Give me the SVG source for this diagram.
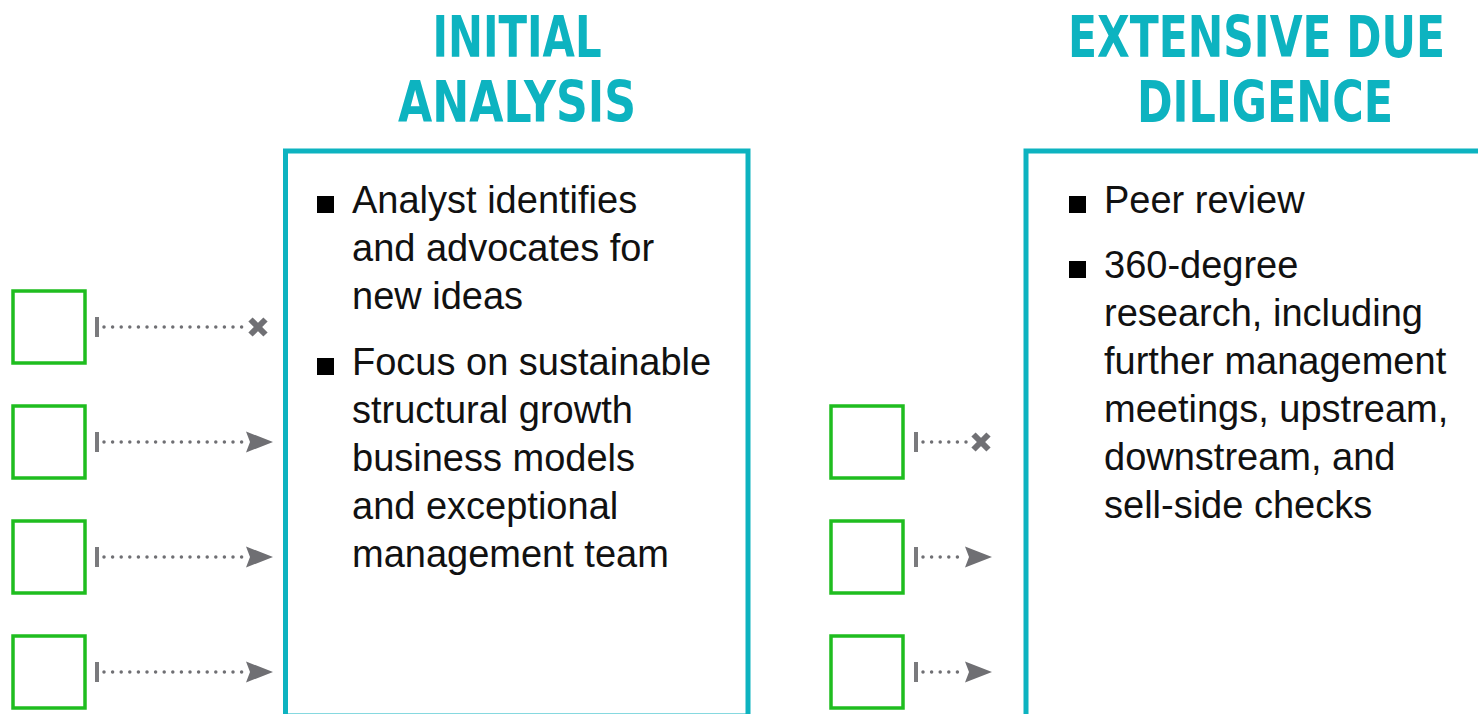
<svg xmlns="http://www.w3.org/2000/svg" width="1478" height="714" viewBox="0 0 1478 714">
<style>
.title{font-family:"DejaVu Sans Condensed","DejaVu Sans",sans-serif;font-weight:bold;font-size:45px;fill:#0db3c0;text-anchor:middle}
.body{font-family:"Liberation Sans",Arial,sans-serif;font-size:38px;fill:#111}
.panel{fill:none;stroke:#0db3c0;stroke-width:5}
.sq{fill:#fff;stroke:#1fbd1f;stroke-width:3.5}
.dots{stroke:#6f6f73;stroke-width:3.5;stroke-linecap:round;stroke-dasharray:0 8.6;fill:none}
.tick{fill:#7a7a7d}
.arr{fill:#6f6f73}
.x{stroke:#707074;stroke-width:6;stroke-linecap:butt}
.bul{fill:#000}
</style>
<defs>
<g id="xm"><line class="x" x1="-7.5" y1="-7.5" x2="7.5" y2="7.5"/><line class="x" x1="-7.5" y1="7.5" x2="7.5" y2="-7.5"/></g>
<polygon id="ah" class="arr" points="-27,-10.5 0,0 -27,10.5 -23,0"/>
</defs>

<g id="title-initial">
<text class="title" transform="translate(517,57) scale(1,1.25)" textLength="169" lengthAdjust="spacingAndGlyphs">INITIAL</text>
<text class="title" transform="translate(517,122) scale(1,1.25)" textLength="238" lengthAdjust="spacingAndGlyphs">ANALYSIS</text>
</g>
<g id="title-due">
<text class="title" transform="translate(1256.5,57) scale(1,1.25)" textLength="377" lengthAdjust="spacingAndGlyphs">EXTENSIVE DUE</text>
<text class="title" transform="translate(1265,122) scale(1,1.25)" textLength="256" lengthAdjust="spacingAndGlyphs">DILIGENCE</text>
</g>

<g id="panel-initial">
<rect class="panel" x="285.5" y="151" width="462.5" height="565"/>
<rect class="bul" x="317" y="196" width="17" height="17"/>
<text class="body" x="352" y="213">Analyst identifies</text>
<text class="body" x="352" y="261">and advocates for</text>
<text class="body" x="352" y="309">new ideas</text>
<rect class="bul" x="317" y="358" width="17" height="17"/>
<text class="body" x="352" y="375">Focus on sustainable</text>
<text class="body" x="352" y="423">structural growth</text>
<text class="body" x="352" y="471">business models</text>
<text class="body" x="352" y="519">and exceptional</text>
<text class="body" x="352" y="567">management team</text>
</g>

<g id="panel-due">
<rect class="panel" x="1026" y="151" width="500" height="600"/>
<rect class="bul" x="1069" y="196" width="17" height="17"/>
<text class="body" x="1104" y="213">Peer review</text>
<rect class="bul" x="1069" y="261" width="17" height="17"/>
<text class="body" x="1104" y="278">360-degree</text>
<text class="body" x="1104" y="326">research, including</text>
<text class="body" x="1104" y="374">further management</text>
<text class="body" x="1104" y="422">meetings, upstream,</text>
<text class="body" x="1104" y="470">downstream, and</text>
<text class="body" x="1104" y="518">sell-side checks</text>
</g>

<g id="left-ideas">
<rect id="idea-l1" class="sq" x="13" y="291" width="72" height="72"/>
<rect id="idea-l2" class="sq" x="13" y="406" width="72" height="72"/>
<rect id="idea-l3" class="sq" x="13" y="521" width="72" height="72"/>
<rect id="idea-l4" class="sq" x="13" y="636" width="72" height="72"/>
</g>
<g id="right-ideas">
<rect id="idea-r1" class="sq" x="831" y="406" width="72" height="72"/>
<rect id="idea-r2" class="sq" x="831" y="521" width="72" height="72"/>
<rect id="idea-r3" class="sq" x="831" y="636" width="72" height="72"/>
</g>

<g id="connectors">
<rect class="tick" x="95" y="317" width="4" height="20"/>
<line class="dots" x1="104" y1="327" x2="250" y2="327"/>
<use href="#xm" x="258" y="327"/>

<rect class="tick" x="95" y="432" width="4" height="20"/>
<line class="dots" x1="104" y1="442" x2="246" y2="442"/>
<use href="#ah" x="273" y="442"/>

<rect class="tick" x="95" y="547" width="4" height="20"/>
<line class="dots" x1="104" y1="557" x2="246" y2="557"/>
<use href="#ah" x="273" y="557"/>

<rect class="tick" x="95" y="662" width="4" height="20"/>
<line class="dots" x1="104" y1="672" x2="246" y2="672"/>
<use href="#ah" x="273" y="672"/>

<rect class="tick" x="914" y="432" width="4" height="20"/>
<line class="dots" x1="923" y1="442" x2="972" y2="442"/>
<use href="#xm" x="981" y="442"/>

<rect class="tick" x="914" y="547" width="4" height="20"/>
<line class="dots" x1="923" y1="557" x2="965" y2="557"/>
<use href="#ah" x="992" y="557"/>

<rect class="tick" x="914" y="662" width="4" height="20"/>
<line class="dots" x1="923" y1="672" x2="965" y2="672"/>
<use href="#ah" x="992" y="672"/>
</g>
</svg>
